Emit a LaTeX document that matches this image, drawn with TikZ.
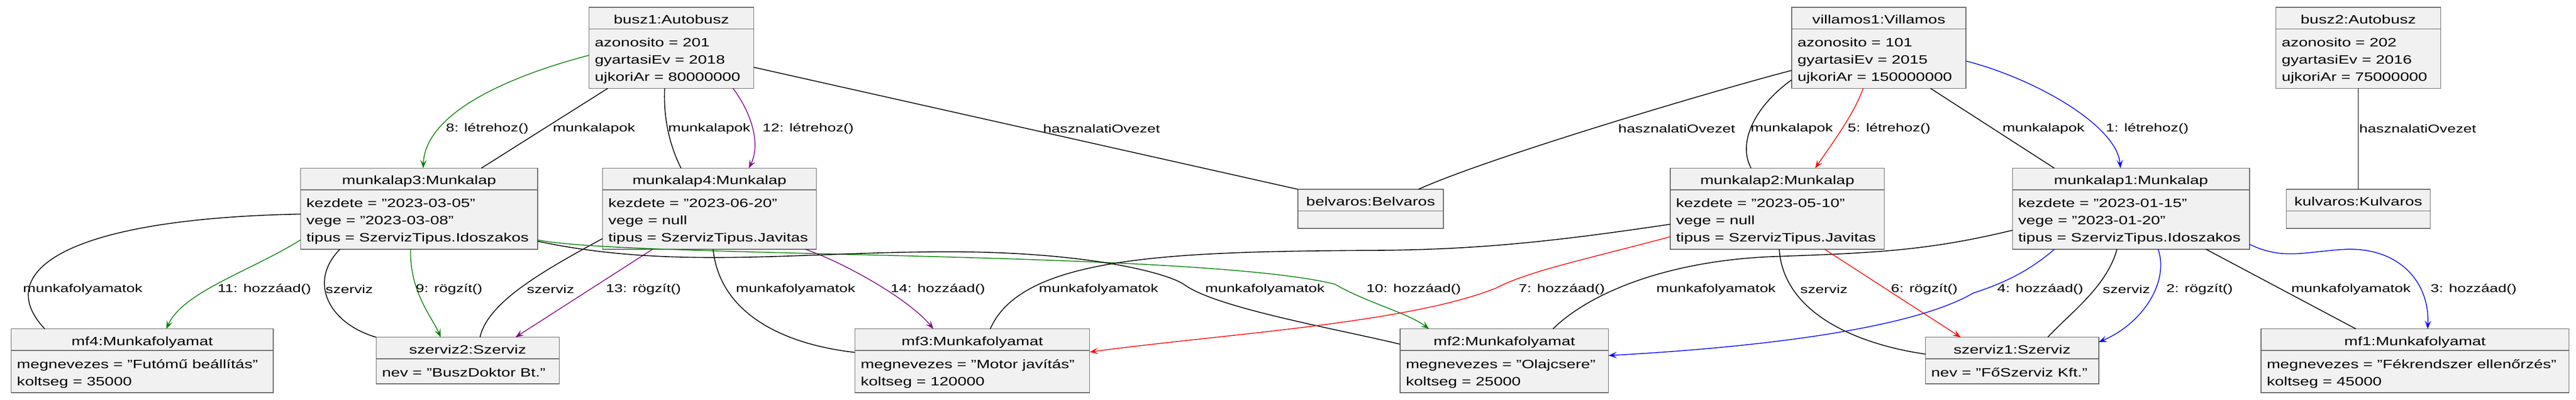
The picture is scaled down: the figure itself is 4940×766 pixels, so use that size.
\documentclass[tikz,border=0pt]{standalone}
\usepackage{fontspec}
\setmainfont{Liberation Sans}[FakeStretch=1.34]
\usepackage{xcolor}
\usepackage{tikz}
\usetikzlibrary{shapes.multipart,calc,arrows.meta}
\definecolor{objfill}{HTML}{F1F1F1}
\definecolor{objline}{HTML}{666666}
\definecolor{grn}{HTML}{008000}
\definecolor{prp}{HTML}{800080}
\newcommand{\ttl}[1]{\rule[-3.2pt]{0pt}{17pt}#1}
\newcommand{\attrs}[1]{\rule{0pt}{15.15pt}#1\rule[-5.15pt]{0pt}{5.15pt}}
\newcommand{\noattr}{\rule{0pt}{13pt}}
\tikzset{obj/.style={rectangle split,rectangle split parts=2,rectangle split part align={center,left},
  draw=objline,fill=objfill,line width=0.7pt,anchor=north west,inner xsep=5.5pt,inner ysep=1.5pt,
  outer sep=0pt,align=left,font=\fontsize{11.6}{16.5}\selectfont},
  lbl/.style={anchor=west,inner sep=0pt,font=\fontsize{10.9}{13}\selectfont},
  asc/.style={line width=0.8pt},
  msg/.style={->,line width=0.75pt}}

\begin{document}
\begin{tikzpicture}[>={Stealth[length=8pt,width=6pt,inset=3.5pt]},x=0.5pt,y=-0.5pt]
    \useasboundingbox (0,0) rectangle (4940,766);

    \node[obj,minimum width=157.9pt] (busz1) at (1129.6,14) {\ttl{busz1:Autobusz}\nodepart{two}\attrs{azonosito = 201\\gyartasiEv = 2018\\ujkoriAr = 80000000}};
    \node[obj,minimum width=167pt] (villamos1) at (3436,14) {\ttl{villamos1:Villamos}\nodepart{two}\attrs{azonosito = 101\\gyartasiEv = 2015\\ujkoriAr = 150000000}};
    \node[obj,minimum width=158pt] (busz2) at (4364.5,14) {\ttl{busz2:Autobusz}\nodepart{two}\attrs{azonosito = 202\\gyartasiEv = 2016\\ujkoriAr = 75000000}};

    \node[obj,minimum width=227.2pt] (munkalap3) at (576.5,322.5) {\ttl{munkalap3:Munkalap}\nodepart{two}\attrs{kezdete = "2023-03-05"\\vege = "2023-03-08"\\tipus = SzervizTipus.Idoszakos}};
    \node[obj,minimum width=205pt] (munkalap4) at (1155.5,322.5) {\ttl{munkalap4:Munkalap}\nodepart{two}\attrs{kezdete = "2023-06-20"\\vege = null\\tipus = SzervizTipus.Javitas}};
    \node[obj,minimum width=205.3pt] (munkalap2) at (3203,322.5) {\ttl{munkalap2:Munkalap}\nodepart{two}\attrs{kezdete = "2023-05-10"\\vege = null\\tipus = SzervizTipus.Javitas}};
    \node[obj,minimum width=227.3pt] (munkalap1) at (3859.3,322.5) {\ttl{munkalap1:Munkalap}\nodepart{two}\attrs{kezdete = "2023-01-15"\\vege = "2023-01-20"\\tipus = SzervizTipus.Idoszakos}};
    \node[obj,minimum width=139.5pt] (belvaros) at (2489,363) {\ttl{belvaros:Belvaros}\nodepart{two}\noattr};
    \node[obj,minimum width=138pt] (kulvaros) at (4384.5,363) {\ttl{kulvaros:Kulvaros}\nodepart{two}\noattr};

    \node[obj,minimum width=251.2pt] (mf4) at (21.5,630.7) {\ttl{mf4:Munkafolyamat}\nodepart{two}\attrs{megnevezes = "Futómű beállítás"\\koltseg = 35000}};
    \node[obj,minimum width=175.4pt] (szerviz2) at (721.5,646.7) {\ttl{szerviz2:Szerviz}\nodepart{two}\attrs{nev = "BuszDoktor Bt."}};
    \node[obj,minimum width=225.1pt] (mf3) at (1639.5,630.7) {\ttl{mf3:Munkafolyamat}\nodepart{two}\attrs{megnevezes = "Motor javítás"\\koltseg = 120000}};
    \node[obj,minimum width=199.8pt] (mf2) at (2685,630.7) {\ttl{mf2:Munkafolyamat}\nodepart{two}\attrs{megnevezes = "Olajcsere"\\koltseg = 25000}};
    \node[obj,minimum width=166.2pt] (szerviz1) at (3692.4,646.7) {\ttl{szerviz1:Szerviz}\nodepart{two}\attrs{nev = "FőSzerviz Kft."}};
    \node[obj,minimum width=295.2pt] (mf1) at (4336,630.7) {\ttl{mf1:Munkafolyamat}\nodepart{two}\attrs{megnevezes = "Fékrendszer ellenőrzés"\\koltseg = 45000}};

    % jarmuvek es munkalapok
    \draw [asc] ($(busz1.south west)+(36,0)$) to ($(munkalap3.north west)+(346.5,0)$);
    \draw [msg,grn] ($(busz1.north west)+(0,92)$) .. controls (980,145) and (815,215) .. ($(munkalap3.north west)+(235,0)$);
    \draw [asc] ($(busz1.south west)+(145,0)$) .. controls (1272,230) and (1285,280) .. ($(munkalap4.north west)+(150.5,0)$);
    \draw [msg,prp] ($(busz1.south west)+(276,0)$) .. controls (1440,215) and (1460,275) .. ($(munkalap4.north west)+(280.5,0)$);
    \draw [asc] ($(busz1.north east)+(0,115)$) to (belvaros.north west);
    \draw [asc] ($(villamos1.north west)+(0,121)$) .. controls (3300,170) and (2860,300) .. ($(belvaros.north west)+(231,0)$);
    \draw [asc] ($(villamos1.north west)+(0,139)$) .. controls (3370,200) and (3330,270) .. ($(munkalap2.north west)+(155,0)$);
    \draw [msg,red] ($(villamos1.south west)+(137,0)$) .. controls (3555,220) and (3510,280) .. ($(munkalap2.north west)+(278,0)$);
    \draw [asc] ($(villamos1.south west)+(266,0)$) to ($(munkalap1.north west)+(80.4,0)$);
    \draw [msg,blue] ($(villamos1.north east)+(0,103)$) .. controls (3900,150) and (4060,240) .. ($(munkalap1.north west)+(207,0)$);
    \draw [asc] (busz2.south) to (kulvaros.north);

    \node[lbl] (l8) at (854.6,247) {8: létrehoz()};
    \node[lbl] (lmk3) at (1060,247) {munkalapok};
    \node[lbl] (lmk4) at (1281,247) {munkalapok};
    \node[lbl] (l12) at (1462,247) {12: létrehoz()};
    \node[lbl] (lhb1) at (2000,247) {hasznalatiOvezet};
    \node[lbl] (lhv) at (3103,247) {hasznalatiOvezet};
    \node[lbl] (lmk2) at (3357,247) {munkalapok};
    \node[lbl] (l5) at (3543,247) {5: létrehoz()};
    \node[lbl] (lmk1) at (3839.6,247) {munkalapok};
    \node[lbl] (l1) at (4038,247) {1: létrehoz()};
    \node[lbl] (lhb2) at (4524,247) {hasznalatiOvezet};

    % munkalapok, munkafolyamatok es szervizek
    \draw [asc] ($(munkalap3.north west)+(0,88)$) .. controls (100,420) and (-10,530) .. ($(mf4.north west)+(64.5,0)$);
    \draw [msg,grn] ($(munkalap3.north west)+(0,137.5)$) .. controls (480,520) and (350,560) .. ($(mf4.north west)+(297.5,0)$);
    \draw [asc] ($(munkalap3.south west)+(75.5,0)$) .. controls (590,540) and (630,620) .. (szerviz2.north west);
    \draw [msg,grn] ($(munkalap3.south west)+(211,0)$) .. controls (785,560) and (830,610) .. ($(szerviz2.north west)+(123.5,0)$);
    \draw [asc] ($(munkalap4.north west)+(0,135)$) .. controls (1040,520) and (935,580) .. ($(szerviz2.north west)+(199,0)$);
    \draw [msg,prp] ($(munkalap4.south west)+(96,0)$) to ($(szerviz2.north west)+(267,0)$);
    \draw [asc] ($(munkalap4.south west)+(212,0)$) .. controls (1380,600) and (1500,660) .. ($(mf3.north west)+(0,45)$);
    \draw [msg,prp] ($(munkalap4.south west)+(388.5,0)$) .. controls (1610,500) and (1740,570) .. ($(mf3.north west)+(150.5,0)$);
    \draw [msg,grn] ($(munkalap3.north east)+(0,137.5)$) .. controls (1200,495) and (2300,480) .. (2560,545) .. controls (2620,580) and (2700,600) .. ($(mf2.north west)+(55.5,0)$);
    \draw [asc] ($(munkalap3.north east)+(0,140)$) .. controls (1300,520) and (1550,480) .. (1850,483) .. controls (2100,486) and (2240,525) .. (2270,545) .. controls (2330,590) and (2560,630) .. ($(mf2.north west)+(0,29.3)$);
    \draw [asc] ($(munkalap2.north west)+(0,107.5)$) .. controls (3000,460) and (2850,478) .. (2650,480) .. controls (2250,482) and (1960,490) .. ($(mf3.north west)+(259.5,0)$);
    \draw [msg,red] ($(munkalap2.north west)+(0,131.5)$) .. controls (3050,495) and (2930,520) .. (2870,552) .. controls (2700,620) and (2350,640) .. ($(mf3.north east)+(0,44.3)$);
    \draw [asc] ($(munkalap1.north west)+(0,119)$) .. controls (3700,480) and (3600,485) .. (3400,492) .. controls (3200,500) and (3050,560) .. ($(mf2.north west)+(293,0)$);
    \draw [asc] ($(munkalap2.south west)+(209,0)$) .. controls (3420,600) and (3560,660) .. ($(szerviz1.north west)+(0,32.3)$);
    \draw [msg,red] ($(munkalap2.south west)+(296,0)$) to ($(szerviz1.north west)+(67.6,0)$);
    \draw [msg,blue] ($(munkalap1.south west)+(80.4,0)$) .. controls (3880,530) and (3820,550) .. (3784,562) .. controls (3650,640) and (3300,670) .. ($(mf2.north east)+(0,51)$);
    \draw [asc] ($(munkalap1.south west)+(200.4,0)$) .. controls (4040,550) and (3970,600) .. ($(szerviz1.north west)+(234.4,0)$);
    \draw [msg,blue] ($(munkalap1.south west)+(279.3,0)$) .. controls (4160,540) and (4110,620) .. ($(szerviz1.north east)+(0,9.3)$);
    \draw [asc] ($(munkalap1.south west)+(371,0)$) to ($(mf1.north west)+(182,0)$);
    \draw [msg,blue] ($(munkalap1.north east)+(0,146)$) .. controls (4380,500) and (4420,482) .. (4500,478) .. controls (4600,475) and (4660,540) .. ($(mf1.north west)+(319.4,0)$);

    \node[lbl] (lmf4) at (43.8,555) {munkafolyamatok};
    \node[lbl] (l11) at (417,555) {11: hozzáad()};
    \node[lbl] (lsz3) at (624,555) {szerviz};
    \node[lbl] (l9) at (797,555) {9: rögzít()};
    \node[lbl] (lsz4) at (1010,555) {szerviz};
    \node[lbl] (l13) at (1161.5,555) {13: rögzít()};
    \node[lbl] (lmf43) at (1411,555) {munkafolyamatok};
    \node[lbl] (l14) at (1707.5,555) {14: hozzáad()};
    \node[lbl] (lmf23) at (1992,555) {munkafolyamatok};
    \node[lbl] (lmf32) at (2311,555) {munkafolyamatok};
    \node[lbl] (l10) at (2620,555) {10: hozzáad()};
    \node[lbl] (l7) at (2912,555) {7: hozzáad()};
    \node[lbl] (lmf12) at (3176,555) {munkafolyamatok};
    \node[lbl] (lsz2) at (3452,555) {szerviz};
    \node[lbl] (l6) at (3626,555) {6: rögzít()};
    \node[lbl] (l4) at (3829.7,555) {4: hozzáad()};
    \node[lbl] (lsz1) at (4032,555) {szerviz};
    \node[lbl] (l2) at (4153.8,555) {2: rögzít()};
    \node[lbl] (lmf11) at (4393.6,555) {munkafolyamatok};
    \node[lbl] (l3) at (4660.7,555) {3: hozzáad()};
\end{tikzpicture}
\end{document}
